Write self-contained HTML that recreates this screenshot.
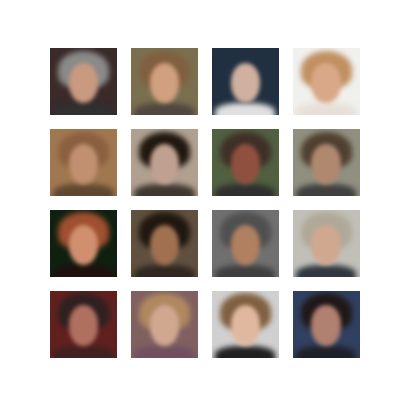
<!DOCTYPE html>
<html><head><meta charset="utf-8"><style>
html,body{margin:0;padding:0;background:#fff;}
#fig{position:relative;width:400px;height:400px;background:#fff;overflow:hidden;}
.tile{position:absolute;width:67px;height:67px;overflow:hidden;}
.hair{position:absolute;left:12%;top:4%;width:76%;height:55%;border-radius:50% 50% 35% 35%;filter:blur(3px);}
.face{position:absolute;left:28%;top:22%;width:44%;height:60%;border-radius:48%;filter:blur(2px);}
.body{position:absolute;left:5%;top:82%;width:90%;height:30%;border-radius:40% 40% 0 0;filter:blur(3px);}
</style></head><body>
<div id="fig"></div>
<script>
const bgs=['#3a2a2a','#7a7050','#203040','#f0f0ee','#a07850','#b0a090','#506040','#909080','#102010','#605040','#707070','#c0c0b8','#602020','#806060','#d0d0d0','#304060'];
const hairs=['#8a8a88','#806040','#203040','#c09060','#8a6040','#201810','#403028','#504030','#a05030','#201810','#505050','#b0a898','#302020','#b08860','#806040','#201818'];
const faces=['#c89a80','#d0a080','#d0b0a0','#d8a888','#c09070','#c0a090','#905040','#b08870','#d09070','#a07050','#b08060','#d0a890','#b07060','#d0a890','#e0b8a0','#b08070'];
const bodies=['#303030','#504840','#e0e0e0','#e8e0d8','#604830','#403830','#303030','#404040','#201010','#302820','#404040','#303840','#402020','#705060','#202020','#202028'];
const fig=document.getElementById('fig');
const x0=50,y0=48,step=80.9,size=67;
for(let i=0;i<16;i++){
  const r=Math.floor(i/4),c=i%4;
  const t=document.createElement('div');
  t.className='tile';
  
  
  t.style.left=(x0+c*step)+'px';t.style.top=(y0+r*step)+'px';
  t.style.background=bgs[i];
  const h=document.createElement('div');h.className='hair';h.style.background=hairs[i];
  
  
  const b=document.createElement('div');b.className='body';b.style.background=bodies[i];
  
  
  const f=document.createElement('div');f.className='face';f.style.background=faces[i];
  
  
  t.appendChild(h);t.appendChild(b);t.appendChild(f);
  fig.appendChild(t);
}
</script>
</body></html>
